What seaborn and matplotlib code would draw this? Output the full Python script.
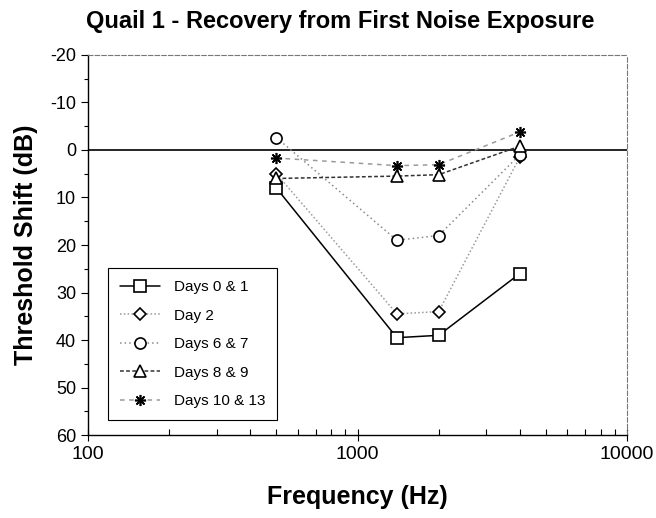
import pandas as pd
import matplotlib.pyplot as plt
import seaborn as sns

sns.set_theme(style="ticks", context="paper")
plt.rcParams['font.family'] = ['Liberation Sans', 'DejaVu Sans']
plt.rcParams['axes.unicode_minus'] = False
plt.rcParams['text.color'] = 'black'
plt.rcParams['axes.labelcolor'] = 'black'
plt.rcParams['xtick.color'] = 'black'
plt.rcParams['ytick.color'] = 'black'

# Data (threshold shift in dB, positive = loss)
freqs = [500, 1400, 2000, 4000]
series_names = ["Days 0 & 1", "Day 2", "Days 6 & 7", "Days 8 & 9", "Days 10 & 13"]
days_0_1 = [8, 39.5, 39, 26]
day_2 = [5, 34.5, 34, 1.5]
days_6_7 = [-2.6, 19, 18, 1]
days_8_9 = [6, 5.5, 5.2, -0.8]
days_10_13 = [1.7, 3.3, 3.1, -3.8]
values = [days_0_1, day_2, days_6_7, days_8_9, days_10_13]

# line styles per series
line_colors = ["black", "#9a9a9a", "#8a8a8a", "#333333", "#9a9a9a"]
line_styles = ["-", (0, (1, 1.5)), (0, (1, 2)), (0, (2.5, 1.5)), (0, (3, 3))]
marker_list = ["s", "D", "o", "^", (8, 2, 0)]
marker_sizes = [8, 6, 8, 8, 8]

fig = plt.figure(figsize=(6.56, 5.18), dpi=100)
ax = fig.add_axes([0.134, 0.160, 0.822, 0.734])

ax.axhline(0, color="black", linewidth=1.2, zorder=1)

for name, vals, c, ls, m, ms in zip(series_names, values, line_colors,
                                    line_styles, marker_list, marker_sizes):
    df = pd.DataFrame({"freq": freqs, "shift": vals})
    sns.lineplot(data=df, x="freq", y="shift", ax=ax, label=name,
                 color=c, linestyle=ls, linewidth=1.1,
                 marker=m, markersize=ms, markerfacecolor="white",
                 markeredgecolor="black", markeredgewidth=1.2, zorder=3)

ax.set_xscale("log")
ax.set_xlim(100, 10000)
ax.set_ylim(60, -20)
ax.set_yticks(range(-20, 61, 10))
ax.set_yticks(range(-15, 60, 10), minor=True)
ax.set_xticks([100, 1000, 10000])
ax.set_xticklabels(["100", "1000", "10000"])

ax.tick_params(axis="y", which="major", direction="out", length=5, width=0.8, labelsize=13)
ax.tick_params(axis="y", which="minor", direction="out", length=3, width=0.8)
ax.tick_params(axis="x", which="major", direction="inout", length=8, width=0.8, labelsize=14)
ax.tick_params(axis="x", which="minor", direction="in", length=4, width=0.8)

for side in ["left", "bottom"]:
    ax.spines[side].set_color("black")
    ax.spines[side].set_linewidth(1.0)
for side in ["top", "right"]:
    ax.spines[side].set_color("#777777")
    ax.spines[side].set_linewidth(0.8)
    ax.spines[side].set_linestyle((0, (4, 2)))

fig.suptitle("Quail 1 - Recovery from First Noise Exposure",
             x=0.518, y=0.98, fontsize=17, fontweight="bold")
ax.set_xlabel("Frequency (Hz)", fontsize=18, fontweight="bold", labelpad=16)
ax.set_ylabel("Threshold Shift (dB)", fontsize=18, fontweight="bold", labelpad=9)

leg = ax.legend(loc="upper left", bbox_to_anchor=(0.037, 0.44), borderaxespad=0,
                fontsize=11, handlelength=2.6, labelspacing=0.95,
                borderpad=0.8, handletextpad=0.9, fancybox=False, framealpha=1)
leg.get_frame().set_edgecolor("black")
leg.get_frame().set_linewidth(0.8)

plt.savefig("out.png", dpi=100)
